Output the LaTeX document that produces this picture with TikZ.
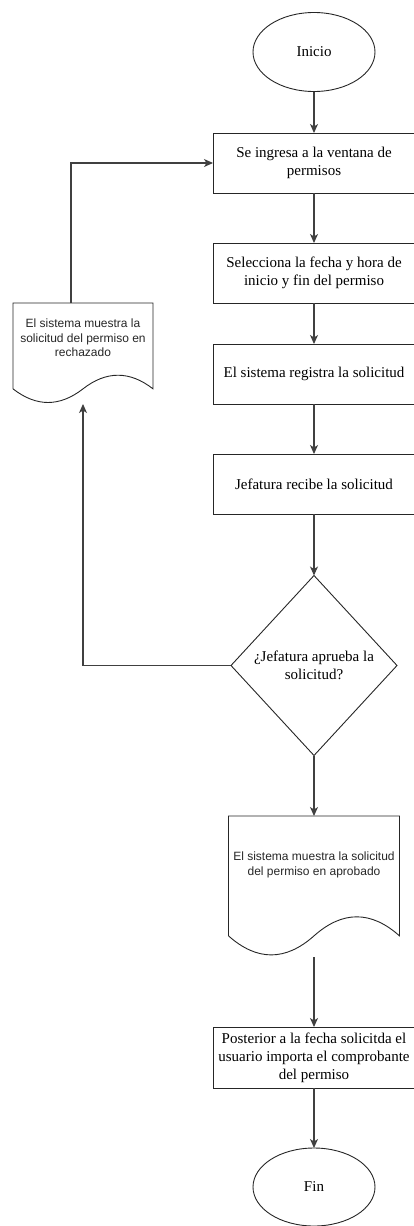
\documentclass[tikz,border=0pt]{standalone}
\usepackage{fontspec}
\setmainfont{Liberation Serif}
\newfontfamily\docfont{Liberation Sans}
\usetikzlibrary{arrows.meta,shapes.geometric,calc}

\tikzset{
  every node/.style={inner sep=0pt, outer sep=0pt},
  serif/.style={font=\fontsize{15}{18}\selectfont},
  proc/.style={serif, draw=black!85, line width=0.9pt, fill=white,
    minimum width=202pt, minimum height=60pt, align=center},
  term/.style={serif, ellipse, draw=black!85, line width=0.9pt,
    minimum width=122pt, minimum height=79pt},
  decision/.style={serif, diamond, draw=black!85, line width=0.9pt,
    minimum width=166pt, minimum height=180pt, align=center},
  docarea/.style={rectangle, draw=none},
  doctext/.style={font=\docfont\fontsize{12}{14.5}\selectfont, align=center, text=black!85},
  docline/.style={draw=black!85, line width=0.9pt},
  flow/.style={draw=black!75, line width=1.2pt,
    -{Stealth[length=9pt, width=8pt, inset=2.5pt]}},
}

% document symbol with a wavy lower edge, drawn over a named area
\newcommand\docoutline[1]{%
  \draw[docline] let \p1=(#1.north west), \p2=(#1.south east),
      \n1={\x2-\x1}, \n2={0.3*(\y1-\y2)} in
    (\x1,\y1) -- (\x2,\y1) -- (\x2,{\y2+0.5*\n2})
    .. controls ({\x1+5*\n1/6},{\y2+1.1*\n2}) and ({\x1+2*\n1/3},{\y2+1.1*\n2}) ..
    ({\x1+0.5*\n1},{\y2+0.5*\n2})
    .. controls ({\x1+\n1/3},{\y2-0.1*\n2}) and ({\x1+\n1/6},{\y2-0.1*\n2}) ..
    (\x1,{\y2+0.5*\n2}) -- cycle;}

\begin{document}
\begin{tikzpicture}[x=1pt, y=-1pt]
  \useasboundingbox (0,0) rectangle (413,1226);

  % main column
  \node[term] (ini) at (314,52) {Inicio};
  \node[proc] (b1) at (314,163) {Se ingresa a la ventana de\\permisos};
  \node[proc] (b2) at (314,273) {Selecciona la fecha y hora de\\inicio y fin del permiso};
  \node[proc] (b3) at (314,374) {El sistema registra la solicitud};
  \node[proc] (b4) at (314,484) {Jefatura recibe la solicitud};
  \node[decision] (dec) at (314,665.5) {¿Jefatura aprueba la\\solicitud?};

  % approved document
  \node[docarea, minimum width=171pt, minimum height=141pt] (apr) at (314,886.5) {};
  \docoutline{apr}
  \node[doctext] (aprtext) at ($(apr.north)+(0,49)$)
    {El sistema muestra la solicitud\\del permiso en aprobado};

  \node[proc, minimum height=61pt] (b5) at (314,1057.5)
    {Posterior a la fecha solicitda el\\usuario importa el comprobante\\del permiso};
  \node[term, minimum height=78pt] (fin) at (314,1187) {Fin};

  % rejected document
  \node[docarea, minimum width=140pt, minimum height=101pt] (rej) at (83,353.5) {};
  \docoutline{rej}
  \node[doctext] (rejtext) at ($(rej.north)+(0,35)$)
    {El sistema muestra la\\solicitud del permiso en\\rechazado};
  \coordinate (rejtop) at ($(rej.north west)+(58,0)$);

  % connectors
  \draw[flow] (ini) -- (b1);
  \draw[flow] (b1) -- (b2);
  \draw[flow] (b2) -- (b3);
  \draw[flow] (b3) -- (b4);
  \draw[flow] (b4) -- (dec);
  \draw[flow] (dec) -- (apr);
  \draw[flow] (apr.south) -- (b5.north);
  \draw[flow] (b5) -- (fin);
  \draw[flow] (dec.west) -| (rej.south);
  \draw[flow] (rejtop) |- (b1.west);
\end{tikzpicture}
\end{document}
